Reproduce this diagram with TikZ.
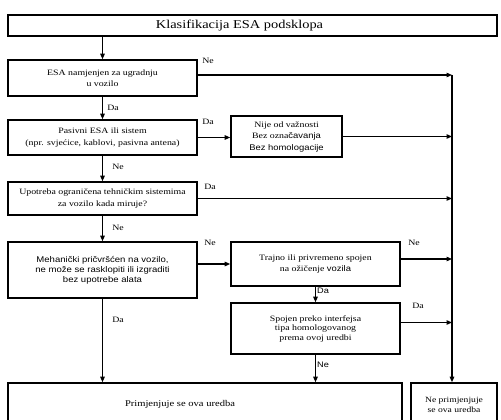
\documentclass[tikz,border=0pt]{standalone}
\usepackage{fontspec}
\setmainfont{Liberation Serif}[FakeStretch=1.2]
\newfontfamily\sansf{Liberation Sans}[FakeStretch=1.15]
\usetikzlibrary{arrows.meta}
\begin{document}
\begin{tikzpicture}[x=1pt,y=-1pt,
  box/.style={draw,line width=1.6pt,minimum width=#1,inner sep=0pt,align=center,font=\fontsize{8.2}{10.5}\selectfont},
  arr/.style={line width=1.2pt,-{Triangle[length=5.5pt,width=4.5pt]}},
  lbl/.style={font=\fontsize{8.2}{9}\selectfont,inner sep=0pt}]
\useasboundingbox (0,0) rectangle (501,420);
\clip (0,0) rectangle (501,420);
\fill[white] (0,0) rectangle (501,420);
% boxes
\node[draw,line width=1.6pt,minimum width=489pt,minimum height=21pt,inner sep=0pt,font=\fontsize{12}{13}\selectfont] (title) at (252.5,25.5) {Klasifikacija ESA podsklopa\hspace*{26pt}};
\node[box=189pt,minimum height=36pt,font=\fontsize{8.2}{11.5}\selectfont] (b1) at (102.5,78) {ESA namjenjen za ugradnju\\u vozilo};
\node[box=189pt,minimum height=35pt,font=\fontsize{8.2}{12}\selectfont] (b2) at (102.5,137.5) {Pasivni ESA ili sistem\\(npr. svjećice, kablovi, pasivna antena)};
\node[box=111pt,minimum height=41pt,font=\fontsize{8.2}{11.5}\selectfont] (nije) at (286.5,136.5) {Nije od važnosti\\Bez ozna{\sansf čavanja}\\{\sansf Bez homologacije}};
\node[box=189pt,minimum height=33pt,font=\fontsize{8.2}{11.5}\selectfont] (b3) at (102.5,198.5) {Upotreba ograničena tehničkim sistemima\\za vozilo kada miruje?};
\node[box=189pt,minimum height=56pt,font=\sansf\fontsize{8.3}{10}\selectfont] (b4) at (102.5,270) {Mehanički pričvršćen na vozilo,\\ne može se rasklopiti ili izgraditi\\bez upotrebe alata};
\node[box=169pt,minimum height=44pt,font=\fontsize{8.2}{11}\selectfont] (b5) at (315.5,264) {Trajno ili privremeno spojen\\na ožičenje {\sansf vozila}};
\node[box=169pt,minimum height=51pt,font=\fontsize{8.2}{9.5}\selectfont] (b6) at (315.5,328.5) {Spojen preko interfejsa\\tipa homologovanog\\prema ovoj uredbi};
\node[box=394pt,minimum height=44pt] (b7) at (205,405) {};
\node[lbl,font=\fontsize{8.8}{9}\selectfont] (b7t) at (180,404) {Primjenjuje se ova uredba};
\node[box=86pt,minimum height=44pt,font=\fontsize{8}{10}\selectfont] (b8) at (454,405) {Ne primjenjuje\\se ova uredba};
% vertical collector
\coordinate (vtop) at (452,75);
\draw[arr] (vtop) -- (vtop |- b8.north);
% vertical flow
\draw[arr] (title.south -| b1.south) -- (b1.south |- b1.north);
\draw[arr] (b1.south) -- (b2.north);
\draw[arr] (b2.south) -- (b3.north);
\draw[arr] (b3.south) -- (b4.north);
\draw[arr] (b4.south) -- (b4.south |- b7.north);
\draw[arr] (b5.south) -- (b6.north);
\draw[arr] (b6.south) -- (b6.south |- b7.north);
% horizontal flow
\draw[arr] (b1.east |- vtop) -- (vtop);
\draw[arr] (b2.east) -- (nije.west |- b2.east);
\draw[arr] (nije.east) -- (nije.east -| vtop);
\draw[arr] (b3.east) -- (b3.east -| vtop);
\draw[arr] (b4.east |- b5.west) -- (b5.west);
\draw[arr] ([yshift=5pt]b5.east) -- ([yshift=5pt]b5.east -| vtop);
\draw[arr] ([yshift=6pt]b6.east) -- ([yshift=6pt]b6.east -| vtop);
% labels
\node[lbl] (l1) at (208,61) {Ne};
\node[lbl] (l2) at (113,108) {Da};
\node[lbl] (l3) at (208,122) {Da};
\node[lbl] (l4) at (118,167) {Ne};
\node[lbl] (l5) at (210,187) {Da};
\node[lbl] (l6) at (118,228) {Ne};
\node[lbl] (l7) at (210,243) {Ne};
\node[lbl] (l8) at (414,243) {Ne};
\node[lbl,font=\sansf\fontsize{8}{9}\selectfont] (l9) at (323,291) {Da};
\node[lbl] (l10) at (418,306) {Da};
\node[lbl,font=\sansf\fontsize{8}{9}\selectfont] (l11) at (323,365) {Ne};
\node[lbl] (l12) at (118,320) {Da};
\end{tikzpicture}
\end{document}
